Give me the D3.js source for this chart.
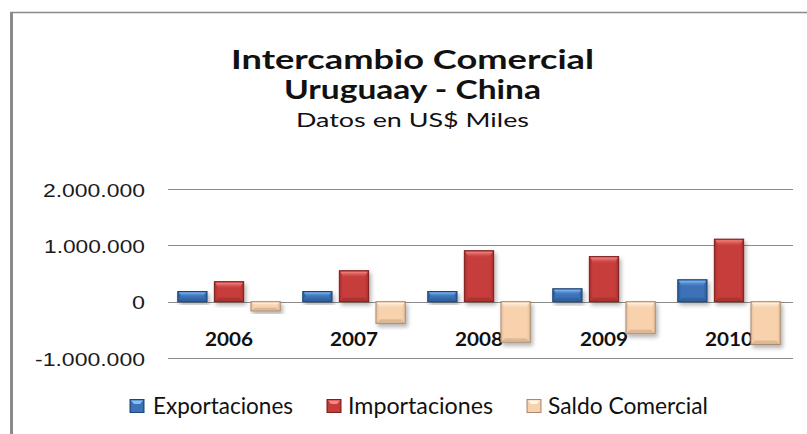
<!DOCTYPE html>
<html>
<head>
<meta charset="utf-8">
<script src="https://cdn.jsdelivr.net/npm/d3@7"></script>
<style>
  body { margin: 0; background: #fff; }
  svg { display: block; }
</style>
</head>
<body>
<div id="graf"></div>
<script>
// Datos (US$ miles)
const anios = ['2006', '2007', '2008', '2009', '2010']
const exportaciones = [180000, 180000, 180000, 230000, 390000]
const importaciones = [355000, 550000, 905000, 800000, 1110000]
const saldo = [-165000, -385000, -720000, -570000, -760000]
const series = ['Exportaciones', 'Importaciones', 'Saldo Comercial']
const ticksY = [-1000000, 0, 1000000, 2000000]
const ticksTexto = ['-1.000.000', '0', '1.000.000', '2.000.000']

const ancho_total = 807
const alto_total = 434

const svg = d3.select('#graf').append('svg')
  .attr('width', ancho_total)
  .attr('height', alto_total)

const defs = svg.append('defs')

// sombra debajo de las barras
const sombra = defs.append('filter')
  .attr('id', 'sombra')
  .attr('x', '-20%').attr('y', '-20%')
  .attr('width', '150%').attr('height', '150%')
sombra.append('feDropShadow')
  .attr('dx', 2).attr('dy', 3)
  .attr('stdDeviation', 2)
  .attr('flood-color', '#000')
  .attr('flood-opacity', 0.3)

// colores: base, borde, brillo, lado
const estilos = {
  'Exportaciones':   { base: '#3c72b8', borde: '#1d4677', brillo: '#86bff5', lado: '#2a5a98' },
  'Importaciones':   { base: '#c73d3b', borde: '#7d1f1d', brillo: '#f58a85', lado: '#a52e2c' },
  'Saldo Comercial': { base: '#f8d2ad', borde: '#a88a70', brillo: '#fff6ec', lado: '#e9c09a' }
}

Object.keys(estilos).forEach((k, i) => {
  const e = estilos[k]
  const g = defs.append('linearGradient')
    .attr('id', 'grad' + i)
    .attr('x1', 0).attr('x2', 1).attr('y1', 0).attr('y2', 0)
  g.append('stop').attr('offset', '0%').attr('stop-color', e.lado)
  g.append('stop').attr('offset', '12%').attr('stop-color', e.base)
  g.append('stop').attr('offset', '88%').attr('stop-color', e.base)
  g.append('stop').attr('offset', '100%').attr('stop-color', e.lado)
  const b = defs.append('linearGradient')
    .attr('id', 'brillo' + i)
    .attr('x1', 0).attr('x2', 0).attr('y1', 0).attr('y2', 1)
  b.append('stop').attr('offset', '0%').attr('stop-color', e.brillo).attr('stop-opacity', 1)
  b.append('stop').attr('offset', '100%').attr('stop-color', e.base).attr('stop-opacity', 0.2)
})

// marco del area del grafico
svg.append('line')
  .attr('x1', 11.5).attr('x2', 11.5)
  .attr('y1', 12).attr('y2', alto_total)
  .attr('stroke', '#8a8a8a').attr('stroke-width', 3)
svg.append('line')
  .attr('x1', 10).attr('x2', ancho_total)
  .attr('y1', 12.5).attr('y2', 12.5)
  .attr('stroke', '#8a8a8a').attr('stroke-width', 1.5)

// Titulos
const fuente = 'Lato, "Open Sans", sans-serif'
const titulos = [
  { t: 'Intercambio Comercial', y: 69, size: 26, w: 363, bold: true },
  { t: 'Uruguaay - China', y: 99, size: 26, w: 257, bold: true },
  { t: 'Datos en US$ Miles', y: 127, size: 19.5, w: 233, bold: false }
]
svg.selectAll('.titulo')
  .data(titulos)
  .enter().append('text')
  .attr('class', 'titulo')
  .attr('x', d => 412.5 - d.w / 2)
  .attr('y', d => d.y)
  .attr('font-family', fuente)
  .attr('font-size', d => d.size)
  .attr('font-weight', d => d.bold ? 700 : 400)
  .attr('textLength', d => d.w)
  .attr('lengthAdjust', 'spacingAndGlyphs')
  .attr('fill', '#111')
  .text(d => d.t)

// Escaladores
const y = d3.scaleLinear().domain([-1000000, 2000000]).range([358, 189])
const x0 = d3.scaleBand().domain(anios).range([166.5, 791.5])
  .paddingInner(0.18).paddingOuter(0.09)
const x1 = d3.scaleBand().domain(series).range([0, x0.bandwidth()]).paddingInner(0.2)

// lineas de cuadricula
svg.append('g')
  .selectAll('line')
  .data(ticksY)
  .enter().append('line')
  .attr('x1', 168).attr('x2', 793)
  .attr('y1', d => Math.round(y(d)) + 0.5)
  .attr('y2', d => Math.round(y(d)) + 0.5)
  .attr('stroke', '#8c8c8c')
  .attr('stroke-width', 1)

// etiquetas del eje Y
const anchos = { '-1.000.000': 110, '0': 13, '1.000.000': 101, '2.000.000': 102 }
svg.append('g')
  .selectAll('text')
  .data(ticksY)
  .enter().append('text')
  .attr('x', (d, i) => 145 - anchos[ticksTexto[i]])
  .attr('y', d => y(d) + 7.5)
  .attr('font-family', '"Liberation Sans", Arial, sans-serif')
  .attr('font-size', 19)
  .attr('textLength', (d, i) => anchos[ticksTexto[i]])
  .attr('lengthAdjust', 'spacingAndGlyphs')
  .attr('fill', '#1a1a1a')
  .text((d, i) => ticksTexto[i])

// etiquetas de los años (debajo de las barras)
svg.append('g')
  .selectAll('text')
  .data(anios)
  .enter().append('text')
  .attr('x', d => x0(d) + x0.bandwidth() / 2 - 24)
  .attr('y', 346)
  .attr('font-family', fuente)
  .attr('font-size', 19)
  .attr('font-weight', 700)
  .attr('textLength', 48)
  .attr('lengthAdjust', 'spacingAndGlyphs')
  .attr('fill', '#111')
  .text(d => d)

// tabla para las barras
const datos = []
anios.forEach((a, i) => {
  datos.push({ anio: a, serie: 'Exportaciones', valor: exportaciones[i], idx: 0 })
  datos.push({ anio: a, serie: 'Importaciones', valor: importaciones[i], idx: 1 })
  datos.push({ anio: a, serie: 'Saldo Comercial', valor: saldo[i], idx: 2 })
})

const barras = svg.append('g')
  .selectAll('g')
  .data(datos)
  .enter().append('g')
  .attr('transform', d => `translate(${x0(d.anio) + x1(d.serie)}, ${y(Math.max(0, d.valor))})`)

const bw = x1.bandwidth()
const altoBarra = d => Math.abs(y(d.valor) - y(0))

barras.append('rect')
  .attr('width', bw)
  .attr('height', altoBarra)
  .attr('fill', d => `url(#grad${d.idx})`)
  .attr('stroke', d => estilos[d.serie].borde)
  .attr('stroke-width', 1)
  .attr('filter', 'url(#sombra)')

// bisel superior
barras.append('path')
  .attr('d', d => {
    const h = Math.min(7, altoBarra(d) / 2)
    return `M1,1 L${bw - 1},1 L${bw - 4},${h} L4,${h} Z`
  })
  .attr('fill', d => `url(#brillo${d.idx})`)

// bisel inferior (mas oscuro)
barras.append('path')
  .attr('d', d => {
    const h = altoBarra(d)
    const b = Math.min(4, h / 3)
    return `M1,${h - 0.5} L${bw - 1},${h - 0.5} L${bw - 4},${h - b} L4,${h - b} Z`
  })
  .attr('fill', d => estilos[d.serie].borde)
  .attr('fill-opacity', 0.35)

// Leyenda
const leyenda = [
  { s: 'Exportaciones', x: 130, tx: 153, w: 140 },
  { s: 'Importaciones', x: 327, tx: 348, w: 145 },
  { s: 'Saldo Comercial', x: 527, tx: 548, w: 160 }
]
const ley = svg.append('g')
  .selectAll('g')
  .data(leyenda)
  .enter().append('g')

ley.append('rect')
  .attr('x', d => d.x).attr('y', 399.5)
  .attr('width', 14).attr('height', 13)
  .attr('fill', (d, i) => `url(#grad${i})`)
  .attr('stroke', d => estilos[d.s].borde)
ley.append('path')
  .attr('d', d => `M${d.x + 1},400.5 L${d.x + 13},400.5 L${d.x + 10},404 L${d.x + 4},404 Z`)
  .attr('fill', d => estilos[d.s].brillo)

ley.append('text')
  .attr('x', d => d.tx)
  .attr('y', 414)
  .attr('font-family', fuente)
  .attr('font-size', 23)
  .attr('textLength', d => d.w)
  .attr('lengthAdjust', 'spacingAndGlyphs')
  .attr('fill', '#111')
  .text(d => d.s)
</script>
</body>
</html>
